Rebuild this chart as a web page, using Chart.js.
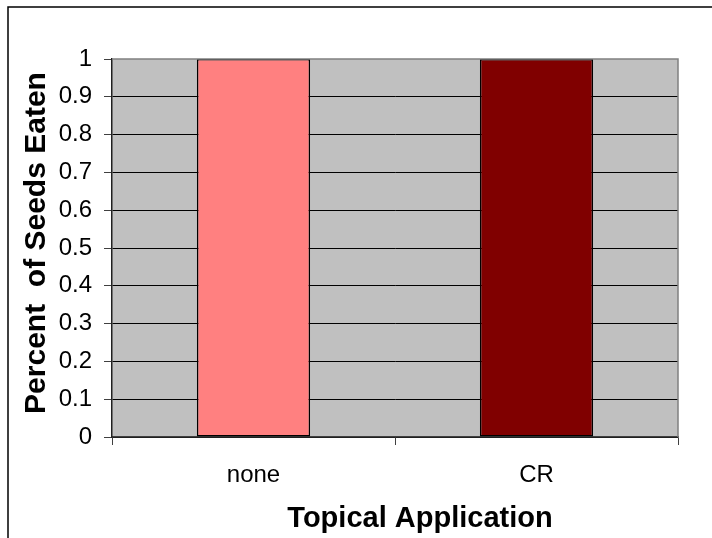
<!DOCTYPE html>
<html>
<head>
<meta charset="utf-8">
<script src="https://cdn.jsdelivr.net/npm/chart.js@4/dist/chart.umd.min.js"></script>
<style>
  html, body { margin: 0; padding: 0; background: #ffffff; }
  #wrap { width: 712px; height: 538px; position: relative; }
</style>
</head>
<body>
<div id="wrap"><canvas id="c" width="712" height="538"></canvas></div>
<script>
// Seed predation by topical treatment
const categories = ['none', 'CR'];
const seedsEaten = [1, 1];
const barColors = ['#FF8080', '#800000'];
const yTicks = [0, 0.1, 0.2, 0.3, 0.4, 0.5, 0.6, 0.7, 0.8, 0.9, 1];
const xTitle = 'Topical Application';
const yTitle = 'Percent  of Seeds Eaten';

const FONT = '"Liberation Sans", Arial, sans-serif';

// Grey plot background, outer frame and axis titles
const decor = {
  id: 'decor',
  beforeDraw(chart) {
    const { ctx, chartArea: a } = chart;
    ctx.save();
    ctx.fillStyle = '#C0C0C0';
    ctx.fillRect(a.left, a.top, a.right - a.left, a.bottom - a.top);
    ctx.restore();
  },
  afterDraw(chart) {
    const { ctx, chartArea: a } = chart;
    ctx.save();
    // plot frame: grey top and right edges
    ctx.strokeStyle = '#808080';
    ctx.lineWidth = 1.5;
    ctx.beginPath();
    ctx.moveTo(a.left, a.top);
    ctx.lineTo(a.right, a.top);
    ctx.lineTo(a.right, a.bottom);
    ctx.stroke();
    // outer chart frame
    ctx.strokeStyle = '#000000';
    ctx.lineWidth = 1.5;
    ctx.beginPath();
    ctx.moveTo(8, chart.height);
    ctx.lineTo(8, 7);
    ctx.lineTo(chart.width, 7);
    ctx.stroke();
    // axis titles
    ctx.fillStyle = '#000000';
    ctx.font = 'bold 29px ' + FONT;
    ctx.textAlign = 'center';
    ctx.textBaseline = 'alphabetic';
    ctx.fillText(xTitle, 420, 527);
    ctx.font = 'bold 30px ' + FONT;
    ctx.translate(45, 243);
    ctx.rotate(-Math.PI / 2);
    ctx.fillText(yTitle, 0, 0);
    ctx.restore();
  }
};

new Chart(document.getElementById('c'), {
  type: 'bar',
  data: {
    labels: categories,
    datasets: [{
      data: seedsEaten,
      backgroundColor: barColors,
      borderColor: '#000000',
      borderWidth: 1.5,
      borderSkipped: false,
      barPercentage: 0.4,
      categoryPercentage: 1.0
    }]
  },
  options: {
    responsive: false,
    animation: false,
    devicePixelRatio: 1,
    layout: { padding: { top: 59, right: 34, left: 0, bottom: 0 } },
    plugins: { legend: { display: false }, tooltip: { enabled: false } },
    scales: {
      x: {
        afterFit(s) { s.height = 101; },
        grid: {
          offset: true,
          drawOnChartArea: false,
          tickLength: 8,
          tickColor: '#404040',
          lineWidth: 1
        },
        border: { color: '#404040', width: 1.5 },
        ticks: { color: '#000000', font: { family: FONT, size: 24 }, padding: 16 }
      },
      y: {
        min: 0,
        max: 1,
        afterFit(s) { s.width = 112; },
        afterBuildTicks(s) { s.ticks = yTicks.map(v => ({ value: v })); },
        grid: {
          color: ctx => (ctx.tick && ctx.tick.value === 1) ? 'rgba(0,0,0,0)' : '#000000',
          lineWidth: 1,
          tickLength: 8,
          tickColor: '#404040'
        },
        border: { color: '#202020', width: 1.5 },
        ticks: {
          color: '#000000',
          font: { family: FONT, size: 24 },
          padding: 12,
          callback: v => String(Number(v.toFixed(1)))
        }
      }
    }
  },
  plugins: [decor]
});
</script>
</body>
</html>
